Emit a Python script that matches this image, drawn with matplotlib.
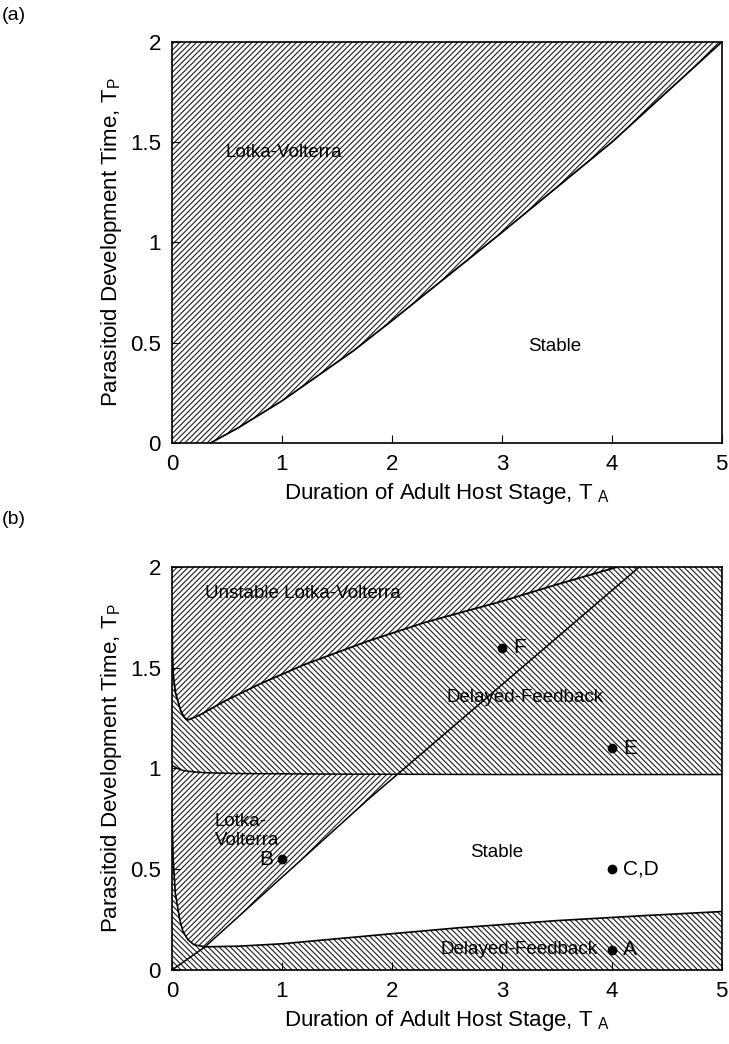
import matplotlib.pyplot as plt
import numpy as np
from matplotlib.patches import Polygon

plt.rcParams['font.family'] = ['Liberation Sans', 'DejaVu Sans']
plt.rcParams['hatch.linewidth'] = 0.8

# (a) boundary between Lotka-Volterra and Stable regions
a_ta = [0.35, 0.6, 1.0, 1.65, 2.0, 2.5, 3.0, 3.5, 4.0, 4.5, 5.0]
a_tp = [0.0, 0.075, 0.21, 0.46, 0.61, 0.83, 1.05, 1.275, 1.5, 1.75, 2.0]

# (b) boundaries
upper_ta = [0.0, 0.003, 0.01, 0.03, 0.055, 0.08, 0.11, 0.14, 0.25, 0.48, 0.8, 1.2, 1.77,
            2.3, 3.0, 3.5, 4.05]
upper_tp = [1.80, 1.60, 1.47, 1.38, 1.33, 1.285, 1.255, 1.24, 1.265, 1.335, 1.42, 1.515, 1.63,
            1.725, 1.83, 1.913, 2.0]

mid_ta = [0.0, 0.05, 0.1, 0.2, 0.3, 0.6, 1.5, 3.0, 5.0]
mid_tp = [1.015, 1.0, 0.99, 0.983, 0.979, 0.975, 0.972, 0.97, 0.97]

steep_ta = [0.0, 0.003, 0.01, 0.03, 0.07, 0.1, 0.145, 0.2, 0.3]
steep_tp = [0.80, 0.71, 0.55, 0.38, 0.25, 0.19, 0.15, 0.125, 0.115]

lower_ta = [0.3, 0.6, 1.0, 1.5, 2.0, 2.62, 3.5, 4.3, 5.0]
lower_tp = [0.115, 0.118, 0.13, 0.155, 0.18, 0.21, 0.245, 0.27, 0.29]

diag_ta = [0.0, 0.3, 1.77, 4.25]
diag_tp = [0.0, 0.115, 0.84, 2.0]

# marked parameter sets
pt_names = ['F', 'E', 'B', 'C,D', 'A']
pt_ta = [3, 4, 1, 4, 4]
pt_tp = [1.6, 1.1, 0.55, 0.5, 0.1]

HATCH_COL = '#1e1e1e'
TA_MAX, TP_MAX = 5, 2
H_FWD, H_BACK = '//////', '\\\\\\\\\\\\'


def hatched(ax, pts, hatch):
    ax.add_patch(Polygon(pts, closed=True, facecolor='white', edgecolor=HATCH_COL,
                         linewidth=0, hatch=hatch, zorder=1))


def style_axes(ax):
    ax.set_xlim(0, TA_MAX)
    ax.set_ylim(0, TP_MAX)
    ax.set_xticks(range(0, 6))
    ax.set_yticks([0, 0.5, 1, 1.5, 2])
    ax.set_yticklabels(['0', '0.5', '1', '1.5', '2'])
    ax.tick_params(direction='in', length=6, labelsize=16, pad=8)
    for s in ax.spines.values():
        s.set_linewidth(1.2)
        s.set_zorder(5)
    ax.set_xlabel('Duration of Adult Host Stage, $\\mathregular{T_{\\ A}}$', fontsize=16)
    ax.set_ylabel('Parasitoid Development Time, $\\mathregular{T_P}$', fontsize=16)


fig = plt.figure(figsize=(7.29, 10.44), dpi=100)
ax1 = fig.add_axes([0.236, 0.5757, 0.754, 0.3841])
ax2 = fig.add_axes([0.236, 0.0709, 0.754, 0.3860])

# ---- panel (a)
pts = [(0, 0)] + list(zip(a_ta, a_tp)) + [(0, TP_MAX)]
hatched(ax1, pts, H_FWD)
ax1.plot(a_ta, a_tp, color='black', lw=1.3, zorder=3)
ax1.text(1.02, 1.45, 'Lotka-Volterra', fontsize=13.5, ha='center', va='center', zorder=4)
ax1.text(3.48, 0.48, 'Stable', fontsize=13.5, ha='center', va='center', zorder=4)
style_axes(ax1)

# ---- panel (b)
# unstable Lotka-Volterra
pts = list(zip(upper_ta, upper_tp)) + [(0, TP_MAX)]
hatched(ax2, pts, H_FWD)
# upper delayed-feedback
pts = list(zip(mid_ta, mid_tp)) + [(TA_MAX, TP_MAX)] + list(zip(upper_ta, upper_tp))[::-1]
hatched(ax2, pts, H_BACK)

# Lotka-Volterra pocket: middle line up to its crossing with the diagonal
xs = np.linspace(0, TA_MAX, 4001)
d_y = np.interp(xs, diag_ta, diag_tp)
m_y = np.interp(xs, mid_ta, mid_tp)
ic = np.argmin(np.abs(d_y - m_y))
x_c, y_c = xs[ic], m_y[ic]
pts = [(x, y) for x, y in zip(mid_ta, mid_tp) if x < x_c] + [(x_c, y_c)]
pts += [(x, y) for x, y in zip(diag_ta, diag_tp) if steep_ta[-1] < x < x_c][::-1]
pts += list(zip(steep_ta, steep_tp))[::-1]
hatched(ax2, pts, H_FWD)

# lower delayed-feedback
pts = [(0, 0), (TA_MAX, 0)] + list(zip(lower_ta, lower_tp))[::-1] + list(zip(steep_ta, steep_tp))[::-1]
hatched(ax2, pts, H_BACK)

for xa, ya, lw in [(upper_ta, upper_tp, 1.3), (mid_ta, mid_tp, 1.1), (steep_ta, steep_tp, 1.2),
                   (lower_ta, lower_tp, 1.2), (diag_ta, diag_tp, 1.1)]:
    ax2.plot(xa, ya, color='black', lw=lw, zorder=3)

ax2.plot(pt_ta, pt_tp, 'o', color='black', ms=6, zorder=4)
for name, x, y in zip(pt_names, pt_ta, pt_tp):
    if name == 'B':
        ax2.text(x - 0.08, y, name, fontsize=15, ha='right', va='center', zorder=4)
    else:
        ax2.text(x + 0.1, y, name, fontsize=15, ha='left', va='center', zorder=4)

ax2.text(0.3, 1.87, 'Unstable Lotka-Volterra', fontsize=13.5, ha='left', va='center', zorder=4)
ax2.text(2.5, 1.35, 'Delayed-Feedback', fontsize=13.5, ha='left', va='center', zorder=4)
ax2.text(0.39, 0.69, 'Lotka-\nVolterra', fontsize=13.5, ha='left', va='center',
         linespacing=1.1, zorder=4)
ax2.text(2.95, 0.585, 'Stable', fontsize=13.5, ha='center', va='center', zorder=4)
ax2.text(3.16, 0.1, 'Delayed-Feedback', fontsize=13.5, ha='center', va='center', zorder=4)
style_axes(ax2)

fig.text(0.002, 0.985, '(a)', fontsize=14, ha='left', va='center')
fig.text(0.002, 0.502, '(b)', fontsize=14, ha='left', va='center')

fig.savefig('out.png', dpi=100)
